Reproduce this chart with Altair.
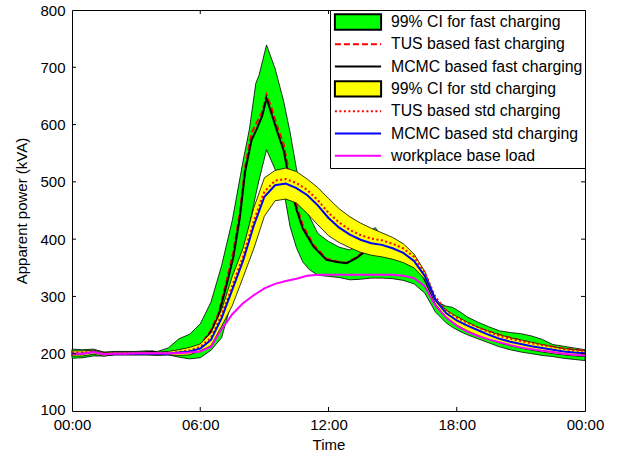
import altair as alt
import pandas as pd

# ---------------- data ----------------
SERIES = [
    "99% CI for fast charging",
    "TUS based fast charging",
    "MCMC based fast charging",
    "99% CI for std charging",
    "TUS based std charging",
    "MCMC based std charging",
    "workplace base load",
]
LEGEND_FILL = ["#00ff00", "transparent", "transparent", "#ffff00", "transparent", "transparent",
               "transparent"]
LEGEND_STROKE = ["#000000", "#ff0000", "#000000", "#000000", "#ff0000", "#0000ff", "#ff00ff"]
LEGEND_DASH = [[1, 0], [6, 3], [1, 0], [1, 0], [2, 2.5], [1, 0], [1, 0]]
RECT_PATH = "M-3.3,-1.1H3.3V1.1H-3.3Z"
LINE_PATH = "M-3.3,0H3.3"
LEGEND_SHAPE = [RECT_PATH, LINE_PATH, LINE_PATH, RECT_PATH, LINE_PATH, LINE_PATH, LINE_PATH]

# fast charging 99% CI band
T_FAST_BAND = [0, 0.5, 1, 1.5, 2, 2.5, 3, 3.5, 4, 4.5, 5, 5.5, 6, 6.5, 7, 7.5, 8, 8.3, 8.6, 8.75,
               9.1, 9.5, 9.9, 10.2, 10.5, 10.8, 11.1, 11.5, 12, 12.5, 13, 13.5, 14, 14.2, 14.5,
               15, 15.5, 16, 16.5, 17, 17.5, 17.8, 18.2, 18.5, 19, 19.5, 20, 20.5, 21, 21.5, 22,
               22.5, 23, 23.5, 24]
FAST_UPPER = [208, 207, 208, 203, 204, 204, 204, 205, 204, 210, 226, 234, 252, 290, 354, 433, 536,
              592, 672, 686, 739, 698, 641, 587, 523, 472, 440, 410, 396, 386, 381, 396, 416, 420,
              402, 392, 380, 362, 328, 292, 283, 281, 272, 264, 255, 247, 240, 237, 235, 231, 225,
              216, 213, 210, 207]
FAST_LOWER = [192, 193, 196, 196, 198, 198, 198, 198, 197, 198, 194, 191, 193, 206, 228, 295, 375,
              425, 478, 503, 556, 522, 486, 422, 385, 360, 347, 337, 335, 333, 329, 330, 332, 332,
              332, 331, 328, 322, 306, 273, 254, 246, 238, 233, 226, 219, 212, 207, 203, 200, 197,
              195, 192, 190, 188]

# fast charging lines
T_FAST_LINE = [0, 0.5, 1, 1.5, 2, 2.5, 3, 3.5, 3.75, 4, 4.5, 5, 5.5, 6, 6.5, 6.85, 7.25, 7.55, 7.85,
               8.1, 8.4, 8.65, 8.9, 9.1, 9.3, 9.6, 9.9, 10.2, 10.5, 10.8, 11.3, 11.9, 12.4, 12.85,
               13.3, 13.7, 14.2, 14.7, 15.2, 15.7, 16.2, 16.5, 17, 17.5, 18, 18.5, 19, 19.5, 20,
               20.5, 21, 21.5, 22, 22.5, 23, 23.5, 24]
MCMC_FAST = [200, 200, 204, 200, 201, 201, 201, 202, 204, 201, 201, 204, 207, 213, 238, 265, 323,
             369, 437, 518, 573, 593, 615, 646, 623, 588, 555, 497, 452, 418, 387, 364, 360, 358,
             367, 378, 386, 387, 380, 370, 352, 330, 290, 268, 256, 248, 241, 235, 229, 224, 219,
             215, 211, 208, 205, 203, 202]
TUS_FAST = [201, 201, 204, 200, 201, 201, 201, 202, 203, 201, 202, 205, 208, 215, 241, 270, 330,
            378, 446, 526, 585, 604, 622, 652, 633, 597, 566, 508, 460, 424, 390, 366, 361, 359,
            368, 380, 389, 390, 384, 374, 356, 334, 294, 272, 260, 252, 245, 239, 233, 228, 223,
            219, 215, 212, 209, 207, 205]

# standard charging band, lines and base load
T_STD = [0, 0.5, 1, 1.5, 2, 2.5, 3, 3.5, 4, 4.5, 5, 5.5, 6, 6.5, 7, 7.5, 8, 8.5, 9, 9.5, 10, 10.5,
         11, 11.5, 12, 12.5, 13, 13.5, 14, 14.5, 15, 15.5, 16, 16.5, 17, 17.5, 18, 18.5, 19, 19.5,
         20, 20.5, 21, 21.5, 22, 22.5, 23, 23.5, 24]
STD_UPPER = [205, 205, 206, 202, 203, 203, 203, 203, 203, 204, 207, 211, 217, 236, 277, 335, 384,
             454, 507, 520, 524, 518, 505, 490, 471, 453, 439, 428, 419, 411, 403, 392, 374, 344,
             297, 276, 265, 255, 246, 239, 233, 228, 224, 220, 216, 212, 209, 207, 205]
STD_LOWER = [196, 196, 199, 196, 198, 198, 198, 198, 198, 198, 197, 198, 205, 214, 248, 284, 333,
             383, 440, 467, 470, 463, 445, 425, 406, 394, 385, 377, 372, 369, 365, 359, 350, 330,
             287, 264, 250, 240, 232, 225, 219, 214, 210, 206, 203, 200, 198, 196, 195]
MCMC_STD = [200, 200, 203, 199, 200, 200, 200, 200, 200, 200, 202, 204, 209, 224, 262, 312, 362,
            423, 474, 494, 497, 489, 477, 459, 437, 420, 408, 399, 393, 390, 384, 376, 362, 336,
            294, 271, 258, 249, 241, 233, 226, 221, 217, 213, 210, 207, 204, 202, 201]
TUS_STD = [202, 202, 204, 200, 201, 201, 201, 201, 201, 201, 203, 206, 212, 228, 268, 319, 370,
           431, 483, 502, 505, 498, 486, 468, 446, 429, 416, 407, 401, 398, 392, 384, 369, 342,
           299, 276, 263, 254, 246, 238, 231, 226, 222, 218, 215, 212, 208, 206, 205]
BASE_LOAD = [200, 200, 203, 199, 200, 200, 201, 201, 201, 201, 201, 202, 204, 212, 243, 269, 288,
             302, 314, 322, 327, 331, 336, 338, 338, 338, 338, 338, 338, 338, 338, 336, 332, 318,
             284, 263, 249, 238, 231, 225, 220, 215, 211, 208, 205, 203, 200, 198, 197]

Y_TICKS = [100, 200, 300, 400, 500, 600, 700, 800]
X_TICKS = [0, 6, 12, 18, 24]
INNER_Y_TICKS = Y_TICKS[1:-1]
INNER_X_TICKS = X_TICKS[1:-1]

# ---------------- frames ----------------
df_fast_band = pd.DataFrame({"t": T_FAST_BAND, "upper": FAST_UPPER, "lower": FAST_LOWER})
df_std_band = pd.DataFrame({"t": T_STD, "upper": STD_UPPER, "lower": STD_LOWER})


def line_df(t, v):
    return pd.DataFrame({"t": t, "v": v})


df_tus_fast = line_df(T_FAST_LINE, TUS_FAST)
df_mcmc_fast = line_df(T_FAST_LINE, MCMC_FAST)
df_tus_std = line_df(T_STD, TUS_STD)
df_mcmc_std = line_df(T_STD, MCMC_STD)
df_base = line_df(T_STD, BASE_LOAD)
df_legend = pd.DataFrame({"series": SERIES})

W, H = 513, 401
FONT = "Liberation Sans"

x_scale = alt.Scale(domain=[0, 24], nice=False, zero=False)
y_scale = alt.Scale(domain=[100, 800], nice=False, zero=False)
x_axis = alt.Axis(values=X_TICKS, title="Time", grid=False, ticks=False, domain=False,
                  labelFlush=False, labelOverlap=False, labelPadding=6, titlePadding=5,
                  labelExpr="(datum.value % 24 < 10 ? '0' : '') + (datum.value % 24) + ':00'")
y_axis = alt.Axis(values=Y_TICKS, title="Apparent power (kVA)", grid=False, ticks=False,
                  domain=False, labelFlush=False, labelOverlap=False, labelPadding=7,
                  titlePadding=10,
                  labelOffset={"condition": {"test": "datum.value == 100", "value": -2},
                               "value": 0})


def X(field):
    return alt.X(field, scale=x_scale, axis=x_axis, title="Time")


def Y(field):
    return alt.Y(field, scale=y_scale, axis=y_axis, title="Apparent power (kVA)")


legend = alt.Legend(
    title=None, orient="top-right", offset=0, padding=2, rowPadding=2.3, clipHeight=20,
    strokeColor="black", fillColor="white", cornerRadius=0,
    labelFont=FONT, labelFontSize=15.8, labelColor="black", labelLimit=400,
    symbolSize=196, symbolOffset=18, labelOffset=25, symbolOpacity=1, symbolStrokeWidth=2,
)

fast_band = alt.Chart(df_fast_band).mark_area(
    fill="#00ff00", stroke="black", strokeWidth=0.8, opacity=1).encode(
    x=X("t:Q"), y=Y("upper:Q"), y2="lower:Q")
tus_fast = alt.Chart(df_tus_fast).mark_line(color="#ff0000", strokeWidth=2, strokeDash=[6, 3]).encode(
    x=X("t:Q"), y=Y("v:Q"))
mcmc_fast = alt.Chart(df_mcmc_fast).mark_line(color="#000000", strokeWidth=2).encode(
    x=X("t:Q"), y=Y("v:Q"))
std_band = alt.Chart(df_std_band).mark_area(
    fill="#ffff00", stroke="black", strokeWidth=0.8, opacity=1).encode(
    x=X("t:Q"), y=Y("upper:Q"), y2="lower:Q")
tus_std = alt.Chart(df_tus_std).mark_line(color="#ff0000", strokeWidth=2, strokeDash=[2, 2.5]).encode(
    x=X("t:Q"), y=Y("v:Q"))
mcmc_std = alt.Chart(df_mcmc_std).mark_line(color="#0000ff", strokeWidth=2).encode(
    x=X("t:Q"), y=Y("v:Q"))
base = alt.Chart(df_base).mark_line(color="#ff00ff", strokeWidth=2).encode(
    x=X("t:Q"), y=Y("v:Q"))

# legend driver: invisible points (clipped outside the view) that carry the legend scales
legend_layer = alt.Chart(df_legend).mark_point(opacity=1, strokeWidth=2, clip=True).encode(
    x=alt.value(-200), y=alt.value(-200),
    shape=alt.Shape("series:N", scale=alt.Scale(domain=SERIES, range=LEGEND_SHAPE),
                    legend=legend, title=None),
    fill=alt.Fill("series:N", scale=alt.Scale(domain=SERIES, range=LEGEND_FILL),
                  legend=legend, title=None),
    stroke=alt.Stroke("series:N", scale=alt.Scale(domain=SERIES, range=LEGEND_STROKE),
                      legend=legend, title=None),
    strokeDash=alt.StrokeDash("series:N", scale=alt.Scale(domain=SERIES, range=LEGEND_DASH),
                              legend=legend, title=None),
)

# inward MATLAB-style ticks
df_yt = pd.DataFrame({"v": INNER_Y_TICKS})
df_xt = pd.DataFrame({"t": INNER_X_TICKS})
tick_left = alt.Chart(df_yt).mark_rule(color="black", strokeWidth=1).encode(
    y=Y("v:Q"), x=alt.value(0), x2=alt.value(4))
tick_right = alt.Chart(df_yt).mark_rule(color="black", strokeWidth=1).encode(
    y=Y("v:Q"), x=alt.value(W), x2=alt.value(W - 4))
tick_bottom = alt.Chart(df_xt).mark_rule(color="black", strokeWidth=1).encode(
    x=X("t:Q"), y=alt.value(H), y2=alt.value(H - 4))
tick_top = alt.Chart(df_xt).mark_rule(color="black", strokeWidth=1).encode(
    x=X("t:Q"), y=alt.value(0), y2=alt.value(4))

chart = alt.layer(
    fast_band, tus_fast, mcmc_fast, std_band, tus_std, mcmc_std, base,
    tick_left, tick_right, tick_bottom, tick_top, legend_layer,
).properties(
    width=W, height=H,
    padding={"left": 72, "top": 10, "right": 34, "bottom": 46},
    autosize=alt.AutoSizeParams(type="none"),
    background="white",
).configure_view(
    stroke="black", strokeWidth=1
).configure_axis(
    labelFont=FONT, titleFont=FONT, labelFontSize=15, titleFontSize=15,
    labelColor="black", titleColor="black", titleFontWeight="normal",
)

chart.save("out.html", embed_options={"renderer": "svg", "actions": False})
